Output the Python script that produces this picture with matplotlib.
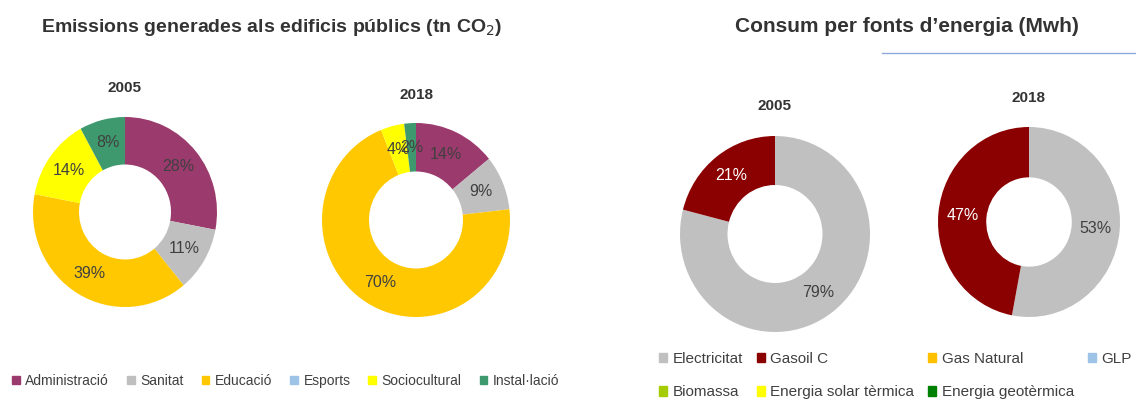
import matplotlib
matplotlib.use('Agg')
import matplotlib.pyplot as plt
from matplotlib.patches import Patch

plt.rcParams['font.family'] = ['Liberation Sans', 'DejaVu Sans']

W, H = 1136, 401

# Emissions per building type (%)
sectors = ['Administració', 'Sanitat', 'Educació', 'Esports', 'Sociocultural', 'Instal·lació']
sector_colors = ['#9B3A6D', '#BFBFBF', '#FFC800', '#9DC3E6', '#FFFF00', '#3E9A6E']
emis_2005 = [28, 11, 39, 0, 14, 8]
emis_2018 = [14, 9, 70, 0, 4, 2]

# Consumption per energy source (%)
sources = ['Electricitat', 'Gasoil C', 'Gas Natural', 'GLP', 'Biomassa',
           'Energia solar tèrmica', 'Energia geotèrmica']
source_colors = ['#C0C0C0', '#8B0000', '#FFC000', '#9DC3E6', '#A5CC00', '#FFFF00', '#008000']
cons_2005 = [79, 21, 0, 0, 0, 0, 0]
cons_2018 = [53, 47, 0, 0, 0, 0, 0]

fig = plt.figure(figsize=(W / 100, H / 100), dpi=100)


def donut(cx, cy, rx, ry, values, colors, year, year_y, hole=0.5, label_colors=None):
    ax = fig.add_axes([(cx - rx) / W, 1 - (cy + ry) / H, 2 * rx / W, 2 * ry / H])
    labels = [f'{v}%' if v > 0 else '' for v in values]
    wedges, texts = ax.pie(values, colors=colors, startangle=90, counterclock=False,
                           radius=1, labels=labels, labeldistance=1 - hole / 2,
                           wedgeprops=dict(width=hole, linewidth=0),
                           textprops=dict(fontsize=11.5, color='#404040'))
    for t in texts:
        t.set_ha('center')
        t.set_va('center')
    if label_colors:
        for t, c in zip(texts, label_colors):
            t.set_color(c)
    ax.set_aspect('auto')
    ax.set_xlim(-1, 1)
    ax.set_ylim(-1, 1)
    ax.axis('off')
    fig.text(cx / W, 1 - year_y / H, year, ha='center', va='center',
             fontsize=11, fontweight='bold', color='#333333')


donut(125, 212, 92, 95, emis_2005, sector_colors, '2005', 88)
donut(416, 220, 94, 97, emis_2018, sector_colors, '2018', 95)

white_on_red = ['#404040', 'white'] + ['#404040'] * 5
donut(775, 234, 95, 98, cons_2005, source_colors, '2005', 106, label_colors=white_on_red)
donut(1029, 222, 91, 95, cons_2018, source_colors, '2018', 98, hole=0.53,
      label_colors=white_on_red)

fig.text(272 / W, 1 - 27 / H, 'Emissions generades als edificis públics (tn CO$_2$)',
         ha='center', va='center', fontsize=14, fontweight='bold', color='#333333')
fig.text(907 / W, 1 - 27 / H, 'Consum per fonts d\u2019energia (Mwh)',
         ha='center', va='center', fontsize=15, fontweight='bold', color='#333333')

# thin rule under the right title
fig.add_artist(plt.Line2D([882 / W, 1.0], [1 - 53 / H, 1 - 53 / H],
                          color='#8FAADC', linewidth=1))

# legends
h1 = [Patch(color=c, label=l) for l, c in zip(sectors, sector_colors)]
fig.legend(handles=h1, loc='center left', bbox_to_anchor=(5 / W, 1 - 381 / H),
           ncol=6, frameon=False, fontsize=10, handlelength=0.55, handleheight=0.55,
           handletextpad=0.4, columnspacing=1.3, labelcolor='#404040', borderpad=0)

order = [0, 4, 1, 5, 2, 6, 3]
h2 = [Patch(color=source_colors[i], label=sources[i]) for i in order]
fig.legend(handles=h2, loc='center left', bbox_to_anchor=(651 / W, 1 - 375.5 / H),
           ncol=4, frameon=False, fontsize=11, handlelength=0.55, handleheight=0.55,
           handletextpad=0.35, columnspacing=0.9, labelspacing=1.3,
           labelcolor='#404040', borderpad=0)

fig.savefig('out.png', dpi=100, facecolor='white')
